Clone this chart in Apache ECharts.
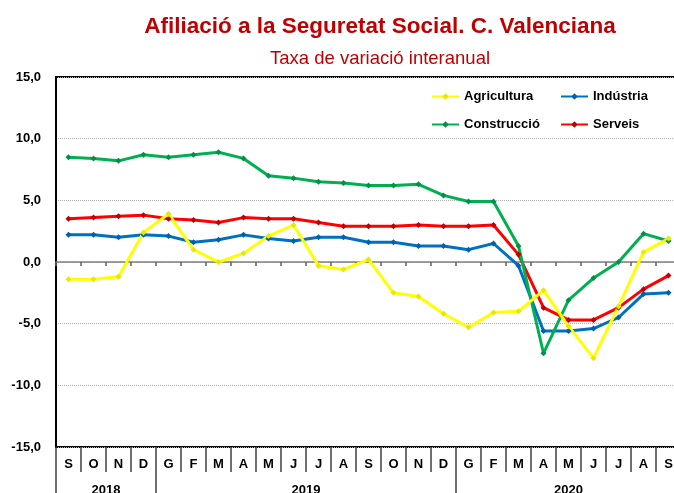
<!DOCTYPE html>
<html>
<head>
<meta charset="utf-8">
<script src="https://cdn.jsdelivr.net/npm/echarts@6/dist/echarts.min.js"></script>
<style>
  html, body { margin: 0; padding: 0; background: #fff; }
  #chart { width: 674px; height: 493px; }
</style>
</head>
<body>
<div id="chart"></div>
<script>
// mesos (S 2018 ... S 2020)
const months = ['S','O','N','D','G','F','M','A','M','J','J','A','S','O','N','D','G','F','M','A','M','J','J','A','S'];
const years = ['2018', '2019', '2020'];
const yearSizes = [4, 12, 9];

const agricultura = [-1.4,-1.4,-1.2,2.4,3.9,1.0,0.0,0.7,2.1,3.0,-0.3,-0.6,0.2,-2.5,-2.8,-4.2,-5.3,-4.1,-4.0,-2.3,-5.2,-7.8,-3.6,0.8,1.9];
const industria = [2.2,2.2,2.0,2.2,2.1,1.6,1.8,2.2,1.9,1.7,2.0,2.0,1.6,1.6,1.3,1.3,1.0,1.5,-0.3,-5.6,-5.6,-5.4,-4.5,-2.6,-2.5];
const construccio = [8.5,8.4,8.2,8.7,8.5,8.7,8.9,8.4,7.0,6.8,6.5,6.4,6.2,6.2,6.3,5.4,4.9,4.9,1.3,-7.4,-3.1,-1.3,0.0,2.3,1.7];
const serveis = [3.5,3.6,3.7,3.8,3.5,3.4,3.2,3.6,3.5,3.5,3.2,2.9,2.9,2.9,3.0,2.9,2.9,3.0,0.6,-3.7,-4.7,-4.7,-3.7,-2.2,-1.1];

const yTicks = [-15, -10, -5, 0, 5, 10, 15];

// separadors i centres dels anys, en unitats de mes
const yearBounds = [0];
yearSizes.forEach((n, i) => yearBounds.push(yearBounds[i] + n));
const yearCenters = yearSizes.map((n, i) => yearBounds[i] + n / 2);

const font = 'Liberation Sans';
const myChart = echarts.init(document.getElementById('chart'));

function mkSeries(name, data, line, marker) {
  return {
    name: name,
    type: 'line',
    data: data,
    symbol: 'diamond',
    symbolSize: 6,
    showAllSymbol: true,
    lineStyle: { color: line, width: 3 },
    itemStyle: { color: marker, borderWidth: 0 },
    emphasis: { disabled: true }
  };
}

const legendBase = {
  orient: 'vertical', top: 90, itemGap: 15, padding: 0,
  itemWidth: 27, itemHeight: 8,
  textStyle: { fontFamily: font, fontWeight: 'bold', fontSize: 13, color: '#000' }
};

myChart.setOption({
  animation: false,
  title: [
    {
      text: 'Afiliació a la Seguretat Social. C. Valenciana',
      left: 375, top: 10, textAlign: 'center',
      textStyle: { color: '#C00000', fontFamily: font, fontWeight: 'bold', fontSize: 22.5 }
    },
    {
      text: 'Taxa de variació interanual',
      left: 375, top: 44, textAlign: 'center',
      textStyle: { color: '#C00000', fontFamily: font, fontWeight: 'normal', fontSize: 18.5 }
    }
  ],
  legend: [
    Object.assign({ data: ['Agricultura', 'Construcció'], left: 431 }, legendBase),
    Object.assign({ data: ['Indústria', 'Serveis'], left: 560 }, legendBase)
  ],
  grid: {
    left: 56, top: 77, width: 625, height: 370,
    outerBoundsMode: 'none', containLabel: false,
    show: true, borderColor: '#000', borderWidth: 2
  },
  xAxis: [
    {
      type: 'category', data: months, boundaryGap: true,
      axisLine: { onZero: true, lineStyle: { color: '#808080', width: 1.5 } },
      axisTick: { show: true, interval: 0, length: 4, lineStyle: { color: '#606060', width: 1.5 } },
      axisLabel: { show: false },
      splitLine: { show: false }
    },
    {
      type: 'category', data: months, boundaryGap: true, position: 'bottom',
      axisLine: { show: false, onZero: false },
      axisTick: { show: true, interval: 0, length: 25, lineStyle: { color: '#404040', width: 1.5 } },
      axisLabel: { interval: 0, margin: 11, fontFamily: font, fontWeight: 'bold', fontSize: 13, color: '#000' },
      splitLine: { show: false }
    },
    {
      type: 'value', min: 0, max: months.length, position: 'bottom',
      axisLine: { show: false, onZero: false },
      axisTick: { show: true, customValues: yearBounds, length: 46, lineStyle: { color: '#404040', width: 1.5 } },
      axisLabel: {
        customValues: yearCenters, margin: 37,
        fontFamily: font, fontWeight: 'bold', fontSize: 13, color: '#000',
        formatter: (v) => years[yearCenters.indexOf(v)] || ''
      },
      splitLine: { show: false }
    }
  ],
  yAxis: {
    type: 'value', min: yTicks[0], max: yTicks[yTicks.length - 1], interval: 5,
    axisLine: { show: true, lineStyle: { color: '#000', width: 2 } },
    axisTick: { show: false },
    axisLabel: {
      margin: 15, fontFamily: font, fontWeight: 'bold', fontSize: 13, color: '#000',
      formatter: (v) => v.toFixed(1).replace('.', ',')
    },
    splitLine: { show: true, lineStyle: { color: '#b0b0b0', type: 'dotted', width: 1 } }
  },
  series: [
    mkSeries('Indústria', industria, '#0070C0', '#0060B0'),
    mkSeries('Serveis', serveis, '#FF0000', '#C00000'),
    mkSeries('Construcció', construccio, '#00B050', '#00904A'),
    mkSeries('Agricultura', agricultura, '#FFFF00', '#E8E800')
  ]
});
</script>
</body>
</html>
